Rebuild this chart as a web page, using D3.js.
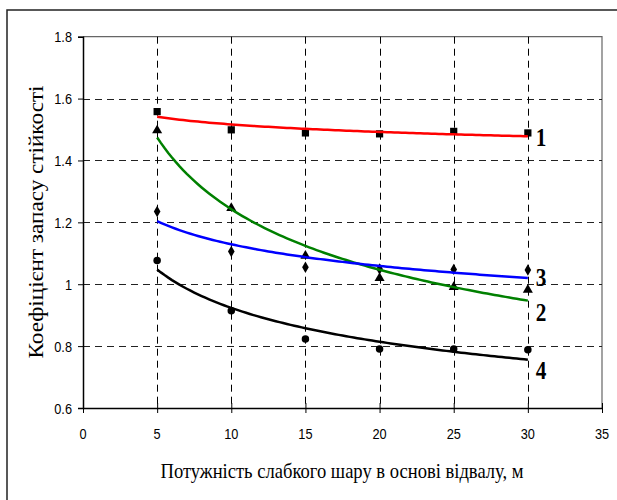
<!DOCTYPE html>
<html>
<head>
<meta charset="utf-8">
<script src="https://cdn.jsdelivr.net/npm/d3@7"></script>
<style>
  html, body { margin: 0; padding: 0; background: #fff; }
  svg { display: block; }
</style>
</head>
<body>
<svg id="chart" width="617" height="500"></svg>
<script>
// Thickness of the weak layer at the dump base, m
const thickness = [5, 10, 15, 20, 25, 30];

// Stability factor for each calculation variant
const series1 = [1.558, 1.499, 1.489, 1.486, 1.494, 1.489];
const series2 = [1.497, 1.246, 1.092, 1.020, 0.991, 0.982];
const series3 = [1.235, 1.106, 1.055, 1.049, 1.048, 1.046];
const series4 = [1.077, 0.914, 0.823, 0.791, 0.791, 0.788];

const seriesNames = ["1", "2", "3", "4"];
const seriesValues = [series1, series2, series3, series4];
const seriesColors = ["#ff0000", "#008000", "#0000ff", "#000000"];
const seriesMarkers = ["square", "triangle", "diamond", "circle"];
// vertical nudge of the curve labels relative to the curve end (px)
const labelDy = [4, 14, 2, 13];

const xTicks = [0, 5, 10, 15, 20, 25, 30, 35];
const yTicks = [0.6, 0.8, 1.0, 1.2, 1.4, 1.6, 1.8];
const yTickLabels = ["0.6", "0.8", "1", "1.2", "1.4", "1.6", "1.8"];

const xTitle = "Потужність слабкого шару в основі відвалу, м";
const yTitle = "Коефіцієнт запасу стійкості";

const svg = d3.select("#chart");

const x = d3.scaleLinear().domain([0, 35]).range([83, 602]);
const y = d3.scaleLinear().domain([0.6, 1.8]).range([408, 36.7]);

// outer chart frame
svg.append("rect")
  .attr("x", 7).attr("y", 10).attr("width", 640).attr("height", 520)
  .attr("fill", "none").attr("stroke", "#222").attr("stroke-width", 1.5);

// plot area border (top and right)
svg.append("path")
  .attr("d", `M${x(0)},${y(1.8)}H${x(35)}V${y(0.6)}`)
  .attr("fill", "none").attr("stroke", "#666").attr("stroke-width", 1.2);

// dashed grid
const grid = svg.append("g").attr("stroke-dasharray", "7,5").attr("fill", "none");
grid.selectAll("line.h").data(yTicks.filter(v => v > 0.6 && v < 1.8)).join("line")
  .attr("class", "h")
  .attr("x1", x(0)).attr("x2", x(35))
  .attr("y1", d => Math.round(y(d)) + 0.5).attr("y2", d => Math.round(y(d)) + 0.5)
  .attr("stroke", "#222").attr("stroke-width", 1);
grid.selectAll("line.v").data(xTicks.filter(v => v > 0 && v < 35)).join("line")
  .attr("class", "v")
  .attr("x1", d => Math.round(x(d)) + 0.5).attr("x2", d => Math.round(x(d)) + 0.5)
  .attr("y1", y(1.8)).attr("y2", y(0.6))
  .attr("stroke", "#000").attr("stroke-width", 1);

// axes
const yAxis = d3.axisLeft(y).tickValues(yTicks).tickSize(5).tickFormat("");
const gy = svg.append("g").attr("transform", `translate(${x(0)},0)`).call(yAxis);
gy.select(".domain").attr("stroke", "#000").attr("stroke-width", 1.5);
gy.selectAll(".tick line").attr("stroke", "#000");

const xAxis = d3.axisBottom(x).tickValues(xTicks).tickSizeInner(5).tickSizeOuter(0).tickFormat("");
const gx = svg.append("g").attr("transform", `translate(0,${y(0.6)})`).call(xAxis);
gx.select(".domain").attr("stroke", "#000").attr("stroke-width", 1.5);
gx.selectAll(".tick line").attr("stroke", "#000").attr("y1", -5);

// tick labels
const tickFont = "'Liberation Sans', Arial, sans-serif";
svg.append("g").selectAll("text").data(yTicks).join("text")
  .attr("transform", d => `translate(72,${y(d) + 5.5}) scale(0.85,1)`)
  .attr("text-anchor", "end")
  .attr("font-family", tickFont).attr("font-size", 15).attr("fill", "#000")
  .text((d, i) => yTickLabels[i]);
svg.append("g").selectAll("text").data(xTicks).join("text")
  .attr("transform", d => `translate(${x(d)},439) scale(0.85,1)`)
  .attr("text-anchor", "middle")
  .attr("font-family", tickFont).attr("font-size", 15).attr("fill", "#000")
  .text(d => d);

// axis titles
const serif = "'Liberation Serif', 'Times New Roman', serif";
svg.append("text")
  .attr("x", 342).attr("y", 478)
  .attr("text-anchor", "middle")
  .attr("font-family", serif).attr("font-size", 22).attr("fill", "#000")
  .attr("textLength", 363).attr("lengthAdjust", "spacingAndGlyphs")
  .text(xTitle);
svg.append("text")
  .attr("transform", "translate(43,222) rotate(-90)")
  .attr("text-anchor", "middle")
  .attr("font-family", serif).attr("font-size", 22).attr("fill", "#000")
  .attr("textLength", 273).attr("lengthAdjust", "spacingAndGlyphs")
  .text(yTitle);

// power-law trendline y = a * x^b fitted by least squares in log space
function powerFit(xs, ys) {
  const lx = xs.map(Math.log), ly = ys.map(Math.log);
  const mx = d3.mean(lx), my = d3.mean(ly);
  const b = d3.sum(lx, (v, i) => (v - mx) * (ly[i] - my)) / d3.sum(lx, v => (v - mx) ** 2);
  const a = Math.exp(my - b * mx);
  return t => a * Math.pow(t, b);
}

const symbolFor = {
  square: d3.symbol().type(d3.symbolSquare).size(52),
  triangle: d3.symbol().type(d3.symbolTriangle).size(44),
  diamond: d3.symbol().type(d3.symbolDiamond).size(38),
  circle: d3.symbol().type(d3.symbolCircle).size(44)
};

// markers
seriesValues.forEach((vals, si) => {
  svg.append("g").selectAll("path").data(vals).join("path")
    .attr("transform", (d, i) => `translate(${x(thickness[i])},${y(d)})`)
    .attr("d", symbolFor[seriesMarkers[si]]())
    .attr("fill", "#000");
});

// trendlines
const line = d3.line().x(d => x(d[0])).y(d => y(d[1]));
const xMin = d3.min(thickness), xMax = d3.max(thickness);
const samples = d3.range(xMin, xMax + 0.001, 0.25);
seriesValues.forEach((vals, si) => {
  const f = powerFit(thickness, vals);
  svg.append("path")
    .datum(samples.map(t => [t, f(t)]))
    .attr("d", line)
    .attr("fill", "none")
    .attr("stroke", seriesColors[si])
    .attr("stroke-width", 2.5);
  // curve number next to the line end
  svg.append("text")
    .attr("transform", `translate(${x(xMax) + 8},${y(f(xMax)) + labelDy[si] + 6}) scale(0.85,1)`)
    .attr("font-family", serif).attr("font-size", 25).attr("font-weight", "bold")
    .attr("fill", "#000")
    .text(seriesNames[si]);
});
</script>
</body>
</html>
